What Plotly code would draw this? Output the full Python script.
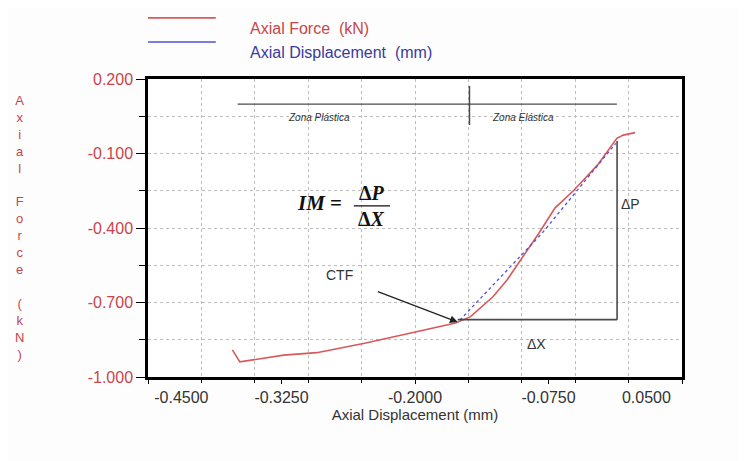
import plotly.graph_objects as go

# red curve: axial force vs axial displacement
force_disp = [-0.371, -0.364, -0.323, -0.292, -0.246, -0.2005, -0.162, -0.148, -0.127,
              -0.114, -0.103, -0.084, -0.069, -0.051, -0.029, -0.011, -0.005, 0.006]
force_kn = [-0.891, -0.939, -0.912, -0.902, -0.863, -0.818, -0.783, -0.757, -0.677,
            -0.610, -0.542, -0.421, -0.320, -0.247, -0.146, -0.039, -0.026, -0.016]

# blue dotted: linear (elastic) fit
fit_disp = [-0.158, -0.081, -0.012]
fit_kn = [-0.771, -0.421, -0.059]

x_ticks = [-0.45, -0.325, -0.2, -0.075, 0.05]
x_ticktext = ["-0.4500", "-0.3250", "-0.2000", "-0.0750", "0.0500"]
y_ticks = [0.2, -0.1, -0.4, -0.7, -1.0]
y_ticktext = ["0.200", "-0.100", "-0.400", "-0.700", "-1.000"]

ctf = (-0.160, -0.779)
zone_y = 0.099
zone_split = -0.149
delta_end_x = -0.0108
delta_top_y = -0.05

RED = "#d9585a"
RED_TXT = "#c8454a"
BLUE = "#5050d8"
BLUE_TXT = "#3a3aa0"
GREY = "#4a4a4a"
SANS = "Liberation Sans, Arial, sans-serif"
SERIF = "Liberation Serif, Times New Roman, serif"
NB = "\u00a0"

fig = go.Figure()
fig.add_trace(go.Scatter(
    x=force_disp, y=force_kn, mode="lines", name="Axial Force  (kN)",
    line={"color": RED, "width": 1.6}, showlegend=False,
))
fig.add_trace(go.Scatter(
    x=fit_disp, y=fit_kn, mode="lines", name="Axial Displacement  (mm)",
    line={"color": BLUE, "width": 1.3, "dash": "dot"}, showlegend=False,
))

shapes = [
    # zone line + separator
    dict(type="line", x0=-0.366, x1=-0.011, y0=zone_y, y1=zone_y,
         line={"color": GREY, "width": 1.2}),
    dict(type="line", x0=zone_split, x1=zone_split, y0=0.015, y1=0.172,
         line={"color": GREY, "width": 1.5}),
    # delta X / delta P triangle
    dict(type="line", x0=ctf[0], x1=delta_end_x, y0=-0.769, y1=-0.769,
         line={"color": GREY, "width": 1.6}),
    dict(type="line", x0=delta_end_x, x1=delta_end_x, y0=-0.769, y1=delta_top_y,
         line={"color": GREY, "width": 1.6}),
    # fraction bar of IM formula
    dict(type="line", x0=-0.2573, x1=-0.2234, y0=-0.311, y1=-0.311,
         line={"color": "#111", "width": 1.3}),
    # custom legend line samples
    dict(type="line", xref="paper", yref="paper", x0=0, x1=0.127, y0=1.205, y1=1.205,
         line={"color": RED, "width": 1.6}),
    dict(type="line", xref="paper", yref="paper", x0=0, x1=0.127, y0=1.124, y1=1.124,
         line={"color": BLUE, "width": 1.6}),
]

annotations = [
    dict(x=-0.290, y=0.047, text="<i>Zona Plástica</i>", showarrow=False,
         font={"family": SANS, "size": 10, "color": "#333"}),
    dict(x=-0.0986, y=0.047, text="<i>Zona Elástica</i>", showarrow=False,
         font={"family": SANS, "size": 10, "color": "#333"}),
    dict(x=-0.2894, y=-0.300, text="<b><i>IM</i> =</b>", showarrow=False,
         font={"family": SERIF, "size": 21, "color": "#111"}),
    dict(x=-0.2404, y=-0.258, text="<b>Δ<i>P</i></b>", showarrow=False,
         font={"family": SERIF, "size": 20, "color": "#111"}),
    dict(x=-0.2404, y=-0.364, text="<b>Δ<i>X</i></b>", showarrow=False,
         font={"family": SERIF, "size": 20, "color": "#111"}),
    dict(x=-0.271, y=-0.589, text="CTF", showarrow=False,
         font={"family": SANS, "size": 14, "color": "#333"}),
    dict(x=ctf[0], y=ctf[1], ax=-0.2362, ay=-0.654, axref="x", ayref="y",
         text="", showarrow=True, arrowhead=2, arrowsize=1.2, arrowwidth=1.3,
         arrowcolor="#222"),
    dict(x=-0.0087, y=-0.303, text="ΔP", showarrow=False, xanchor="left",
         font={"family": SANS, "size": 14, "color": "#333"}),
    dict(x=-0.0858, y=-0.867, text="ΔX", showarrow=False,
         font={"family": SANS, "size": 14, "color": "#333"}),
    # legend texts
    dict(xref="paper", yref="paper", x=0.187, y=1.205, xanchor="left",
         text="Axial Force  (kN)", showarrow=False,
         font={"family": SANS, "size": 16, "color": RED_TXT}),
    dict(xref="paper", yref="paper", x=0.187, y=1.124, xanchor="left",
         text="Axial Displacement  (mm)", showarrow=False,
         font={"family": SANS, "size": 16, "color": BLUE_TXT}),
    # stacked y-axis title
    dict(xref="paper", yref="paper", x=-0.253, y=0.503,
         text="<br>".join(c if c != " " else NB for c in "Axial Force (kN)"),
         showarrow=False, align="center",
         font={"family": SANS, "size": 13, "color": RED_TXT}),
]

# the page body adds an 8px offset, so margins are shifted to compensate
fig.update_layout(
    width=746, height=461,
    margin={"l": 140, "r": 61, "t": 71, "b": 92},
    paper_bgcolor="#fdfdfd", plot_bgcolor="white",
    shapes=shapes, annotations=annotations,
    showlegend=False,
)
fig.update_xaxes(
    range=[-0.45, 0.05], tickvals=x_ticks,
    ticktext=[NB * 15 + x_ticktext[0]] + x_ticktext[1:4] + [x_ticktext[4] + NB * 16],
    ticklabeloverflow="allow",
    showgrid=False, zeroline=False,
    showline=True, linecolor="black", linewidth=2.5, mirror=True,
    ticks="outside", ticklen=4, tickcolor="black", tickwidth=1.2,
    tickfont={"family": SANS, "size": 16, "color": "#333"},
    minor={"tick0": -0.45, "dtick": 0.05, "showgrid": True, "gridcolor": "#bdbdbd",
           "griddash": "dot", "gridwidth": 1, "ticks": "outside", "ticklen": 3,
           "tickcolor": "black"},
    title={"text": "Axial Displacement (mm)", "standoff": 4,
           "font": {"family": SANS, "size": 15, "color": "#333"}},
)
fig.update_yaxes(
    range=[-1.0, 0.2], tickvals=y_ticks, ticktext=y_ticktext,
    showgrid=False, zeroline=False,
    showline=True, linecolor="black", linewidth=2.5, mirror=True,
    ticks="outside", ticklen=9, tickcolor="black", tickwidth=1.2,
    tickfont={"family": SANS, "size": 16, "color": RED_TXT},
    minor={"tick0": -1.0, "dtick": 0.15, "showgrid": True, "gridcolor": "#bdbdbd",
           "griddash": "dot", "gridwidth": 1, "ticks": "outside", "ticklen": 6,
           "tickcolor": "black"},
)

fig.write_html("out.html")
